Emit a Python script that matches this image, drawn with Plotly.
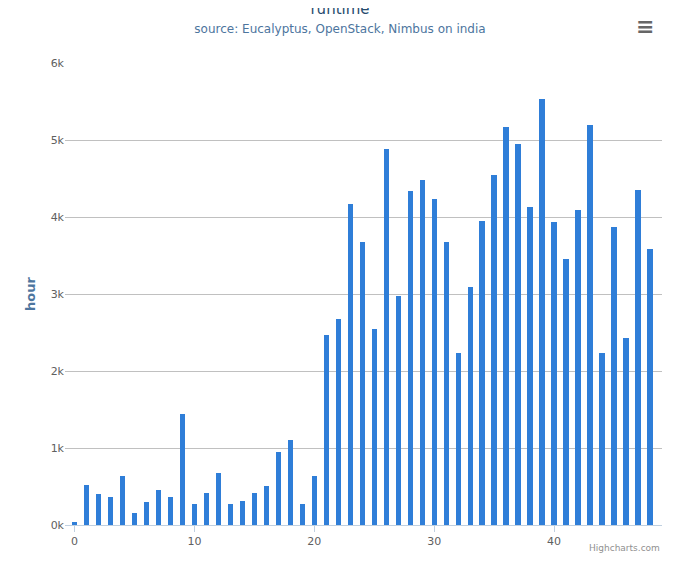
import plotly.graph_objects as go

x_vals = list(range(49))
runtime_k = [0.04,0.52,0.40,0.36,0.64,0.15,0.30,0.45,0.36,1.44,
             0.27,0.42,0.67,0.27,0.31,0.42,0.51,0.95,1.11,0.27,
             0.64,2.47,2.68,4.17,3.68,2.55,4.88,2.97,4.34,4.48,
             4.23,3.68,2.23,3.09,3.95,4.54,5.17,4.95,4.13,5.53,
             3.94,3.46,4.09,5.19,2.23,3.87,2.43,4.35,3.58]
runtime = [v*1000 for v in runtime_k]
y_ticks = [0,1000,2000,3000,4000,5000,6000]
y_labels = ["0k","1k","2k","3k","4k","5k","6k"]

fig = go.Figure(go.Bar(x=x_vals, y=runtime, marker_color="#2f7ed8", width=0.45,
                       marker_line_width=0))
fig.update_layout(
    width=664, height=550, plot_bgcolor="white", paper_bgcolor="white",
    font=dict(family="DejaVu Sans", size=11, color="#606060"),
    margin=dict(l=57, r=10, t=55, b=29),
    title=dict(text="runtime<br><span style='font-size:12px;color:#4d759e'>source: Eucalyptus, OpenStack, Nimbus on india</span>",
               x=0.5, xanchor="center", y=0.99, yanchor="top",
               font=dict(size=15, color="#274b6d")),
    showlegend=False, bargap=0,
    xaxis=dict(range=[-0.8, 49], tickvals=[0,10,20,30,40], showgrid=False,
               showline=True, linecolor="#C0D0E0", ticks="outside", tickcolor="#C0D0E0",
               ticklen=6, zeroline=False, tickfont=dict(size=11, color="#606060")),
    yaxis=dict(range=[0,6000], tickvals=y_ticks, ticktext=y_labels, gridcolor="#C0C0C0",
               zeroline=False, tickfont=dict(size=11, color="#606060"),
               title=dict(text="<b>hour</b>", font=dict(size=13, color="#4d759e"), standoff=12)),
    annotations=[
        dict(text="Highcharts.com", xref="paper", yref="paper", x=1, y=-0.035,
             xanchor="right", yanchor="top", showarrow=False, font=dict(size=9, color="#909090")),
        dict(text="<b>≡</b>", xref="paper", yref="paper", x=0.99, y=1.08,
             xanchor="right", yanchor="middle", showarrow=False, font=dict(size=22, color="#666666")),
    ],
)
fig.write_html("out.html")
